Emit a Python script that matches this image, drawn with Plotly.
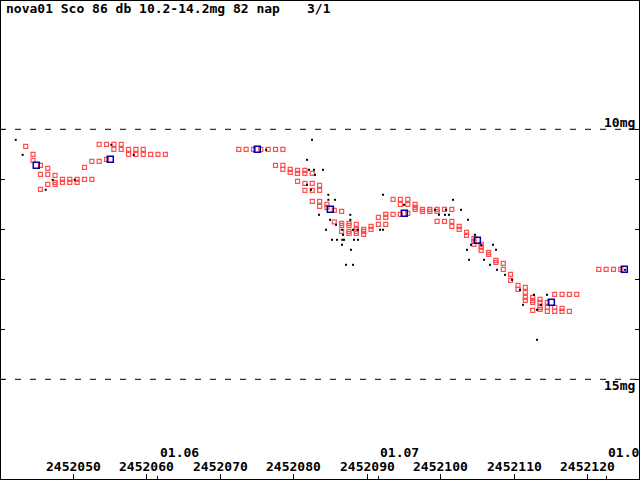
import plotly.graph_objects as go

JD_BASE = 2452000

# visual estimates (red open squares): day offset from JD_BASE, magnitude
red_day = [43.5, 44.5, 44.5, 45.5, 46.5, 45.5, 46.5, 47.5, 46.5, 45.5,
           47.5, 47.5, 48.5, 48.5, 49.5, 49.5, 50.5, 50.5, 51.5, 52.5,
           51.5, 52.5, 53.5, 54.5, 53.5, 54.5, 55.5, 56.5, 55.5, 56.5,
           57.5, 58.5, 59.5, 57.5, 58.5, 59.5, 60.5, 61.5, 62.5,
           72.5, 73.5, 74.5, 75.5, 76.5, 77.5, 78.5,
           77.5, 78.5, 78.5, 79.5, 79.5, 80.5, 80.5, 81.5, 81.5, 82.5,
           80.5, 81.5, 82.5, 83.5, 81.5, 82.5, 83.5,
           82.5, 83.5, 83.5, 84.5, 84.5, 85.5, 86.5,
           85.5, 86.5, 86.5, 87.5, 87.5, 86.5, 87.5, 87.5,
           88.5, 88.5, 88.5, 88.5, 89.5, 89.5, 89.5,
           90.5, 90.5, 91.5, 91.5, 92.5, 92.5, 92.5,
           93.5, 93.5, 94.5, 94.5, 94.5, 95.5, 95.5, 95.5,
           96.5, 96.5, 96.5, 97.5, 97.5, 98.5, 98.5, 99.5, 99.5, 99.5,
           100.5, 100.5, 101.5, 101.5, 101.5, 102.5, 102.5, 103.5, 103.5,
           104.5, 104.5, 104.5, 105.5, 105.5, 105.5, 106.5, 106.5,
           107.5, 107.5, 108.5, 108.5, 109.5, 109.5, 110.5, 110.5,
           111.5, 111.5, 111.5, 111.5, 112.5, 112.5, 112.5, 112.5,
           113.5, 113.5, 113.5, 113.5, 114.5, 114.5, 114.5,
           115.5, 115.5, 115.5, 116.5, 116.5, 116.5, 117.5, 117.5, 118.5,
           121.5, 122.5, 123.5, 124.5]
red_mag = [10.34, 10.50, 10.62, 10.72, 10.78, 10.90, 10.90, 10.92, 11.10, 11.20,
           11.06, 11.10, 11.00, 11.06, 11.00, 11.06, 11.00, 11.06, 11.00, 11.00,
           10.76, 10.64, 10.64, 10.60, 10.30, 10.30, 10.30, 10.30, 10.40, 10.40,
           10.40, 10.40, 10.40, 10.50, 10.50, 10.50, 10.50, 10.50, 10.50,
           10.40, 10.40, 10.40, 10.40, 10.40, 10.40, 10.40,
           10.72, 10.72, 10.80, 10.80, 10.86, 10.82, 10.88, 10.82, 10.88, 10.88,
           11.04, 11.08, 11.08, 11.12, 11.22, 11.22, 11.22,
           11.44, 11.44, 11.54, 11.50, 11.56, 11.62, 11.64,
           11.85, 11.88, 11.92, 11.88, 11.92, 12.04, 12.04, 12.08,
           11.90, 12.00, 12.04, 12.08, 12.00, 12.04, 12.10,
           11.94, 12.00, 11.76, 11.90, 11.70, 11.76, 11.90,
           11.40, 11.70, 11.40, 11.50, 11.70, 11.40, 11.50, 11.68,
           11.50, 11.56, 11.60, 11.60, 11.64, 11.60, 11.64, 11.60, 11.64, 11.84,
           11.60, 11.84, 11.60, 11.84, 11.94, 11.94, 12.00, 12.06, 12.12,
           12.18, 12.24, 12.30, 12.30, 12.36, 12.42, 12.46, 12.50,
           12.62, 12.66, 12.68, 12.80, 12.90, 13.02, 13.12, 13.20,
           13.16, 13.26, 13.36, 13.42, 13.36, 13.42, 13.46, 13.62,
           13.40, 13.46, 13.56, 13.60, 13.46, 13.56, 13.64,
           13.30, 13.56, 13.64, 13.30, 13.58, 13.64, 13.30, 13.64, 13.30,
           12.80, 12.80, 12.80, 12.80]

# CCD / other estimates (black dots)
black_day = [42.14, 43.09, 46.22, 47.17, 50.17, 55.15, 58.20, 76.21, 82.47, 81.79,
             82.06, 82.74, 83.96, 82.88, 81.79, 82.33, 84.69, 84.69, 85.60, 83.42,
             87.68, 84.92, 87.68, 85.73, 84.37, 86.59, 88.05, 88.69, 86.69, 85.19,
             85.87, 86.59, 86.82, 88.18, 88.73, 86.55, 87.77, 87.09, 88.05, 91.72,
             92.13, 92.13, 94.99, 101.66, 99.21, 100.70, 102.75, 99.75, 100.57, 101.11,
             103.70, 104.65, 104.11, 105.51, 107.10, 103.56, 107.51, 103.84, 105.88, 106.69,
             107.65, 108.74, 109.69, 110.78, 112.68, 114.45, 111.19, 113.64, 113.09, 113.09,
             125.07]
black_mag = [10.21, 10.51, 11.21, 11.01, 11.01, 10.31, 10.51, 10.41, 10.21, 10.61,
             10.81, 10.81, 10.81, 10.91, 11.11, 11.21, 11.31, 11.41, 11.41, 11.71,
             11.71, 11.81, 11.81, 11.91, 12.01, 12.01, 12.01, 12.01, 12.11, 12.21,
             12.21, 12.21, 12.21, 12.21, 12.21, 12.31, 12.41, 12.71, 12.71, 12.01,
             12.01, 11.31, 11.51, 11.41, 11.61, 11.61, 11.61, 11.71, 11.71, 11.71,
             11.81, 12.11, 12.31, 12.31, 12.31, 12.41, 12.41, 12.61, 12.61, 12.71,
             12.81, 12.91, 13.01, 13.21, 13.31, 13.31, 13.51, 13.51, 13.61, 14.21,
             12.81]

# 10-day means (blue squares)
blue_day = [44.94, 55.01, 75.02, 84.96, 95.03, 104.97, 115.04, 124.97]
blue_mag = [10.72, 10.60, 10.40, 11.60, 11.68, 12.22, 13.46, 12.80]

jd_ticks = [2452050, 2452060, 2452070, 2452080, 2452090, 2452100, 2452110, 2452120]
month_ticks = [2452061.5, 2452091.5, 2452122.5]
month_labels = ["01.06", "01.07", "01.08"]
mag_ticks = [10, 11, 12, 13, 14, 15]
dashed_mags = [10, 15]

FONT = "DejaVu Sans Mono"
lab_font = dict(family=FONT, size=13, color="black", weight="bold")

fig = go.Figure()
fig.add_trace(go.Scatter(
    x=[JD_BASE + d for d in red_day], y=red_mag, mode="markers",
    marker=dict(symbol="square-open", size=4, color="#ff5050",
                line=dict(width=1.2, color="#ff5050")),
    showlegend=False))
fig.add_trace(go.Scatter(
    x=[JD_BASE + d for d in black_day], y=black_mag, mode="markers",
    marker=dict(symbol="square", size=2, color="black", line=dict(width=0)),
    showlegend=False))
fig.add_trace(go.Scatter(
    x=[JD_BASE + d for d in blue_day], y=blue_mag, mode="markers",
    marker=dict(symbol="square-open", size=6, color="#0000a8",
                line=dict(width=1.5, color="#0000a8")),
    showlegend=False))

# month ticks on a second x axis
fig.add_trace(go.Scatter(x=month_ticks, y=[None] * 3, xaxis="x2",
                         showlegend=False, hoverinfo="skip"))

for m in dashed_mags:
    fig.add_shape(type="line", xref="paper", x0=0, x1=1, yref="y", y0=m, y1=m,
                  line=dict(color="black", width=1, dash="6px,9px"))
# frame
fig.add_shape(type="rect", xref="paper", yref="paper", x0=0, x1=1, y0=0, y1=1,
              line=dict(color="black", width=2))

fig.add_annotation(text="nova01 Sco 86 db 10.2-14.2mg 82 nap", xref="paper", yref="paper",
                   x=4 / 640, y=1, yshift=1, xanchor="left", yanchor="top", showarrow=False,
                   font=lab_font)
fig.add_annotation(text="3/1", xref="paper", yref="paper",
                   x=305 / 640, y=1, yshift=1, xanchor="left", yanchor="top", showarrow=False,
                   font=lab_font)
fig.add_annotation(text="10mg", xref="paper", yref="y", x=1, y=10, xshift=-3, yshift=-3,
                   xanchor="right", yanchor="bottom", showarrow=False, font=lab_font)
fig.add_annotation(text="15mg", xref="paper", yref="y", x=1, y=15, xshift=-3, yshift=3,
                   xanchor="right", yanchor="top", showarrow=False, font=lab_font)
for jd in jd_ticks:
    fig.add_annotation(text=str(jd), xref="x", yref="paper", x=jd, y=0, yshift=4,
                       xanchor="center", yanchor="bottom", showarrow=False, font=lab_font)
for jd, lab in zip(month_ticks, month_labels):
    fig.add_annotation(text=lab, xref="x", yref="paper", x=jd, y=0, yshift=18,
                       xanchor="left", yanchor="bottom", showarrow=False, font=lab_font)

fig.update_layout(
    width=640, height=480,
    margin=dict(l=0, r=0, t=0, b=0, pad=0, autoexpand=False),
    paper_bgcolor="white", plot_bgcolor="white",
    xaxis=dict(range=[2452040, 2452127.11], tickvals=jd_ticks, ticks="inside",
               ticklen=6, tickcolor="black", tickwidth=1, showticklabels=False,
               showgrid=False, zeroline=False),
    xaxis2=dict(range=[2452040, 2452127.11], overlaying="x", side="bottom",
                tickvals=month_ticks, ticks="inside", ticklen=4, tickcolor="black",
                tickwidth=1, showticklabels=False, showgrid=False, zeroline=False),
    yaxis=dict(range=[17.014, 7.414], tickvals=mag_ticks, ticks="inside", ticklen=5,
               tickcolor="black", tickwidth=1, showticklabels=False, showgrid=False,
               zeroline=False, mirror="ticks"),
)

fig.write_html("out.html", config={"displayModeBar": False},
               post_script="document.body.style.margin='0';")
